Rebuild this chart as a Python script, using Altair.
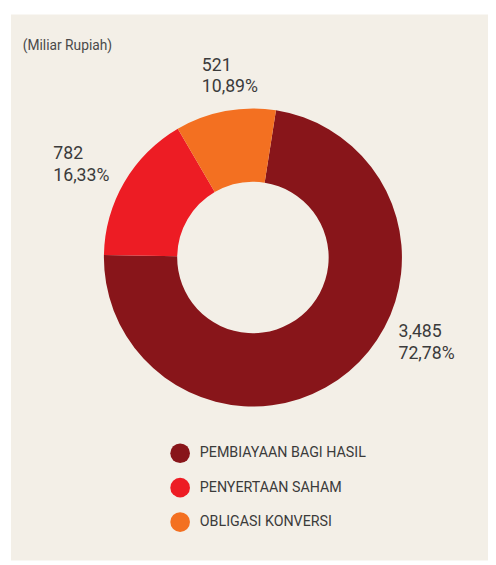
import math
import altair as alt
import pandas as pd

# ---- data ----
categories = ["PEMBIAYAAN BAGI HASIL", "PENYERTAAN SAHAM", "OBLIGASI KONVERSI"]
values = [3485, 782, 521]
percent_labels = ["72,78%", "16,33%", "10,89%"]
unit_label = "(Miliar Rupiah)"

# ---- styles ----
colors = ["#88151a", "#ed1c24", "#f37021"]
font = "Roboto, Liberation Sans, sans-serif"
text_color = "#3b3b3b"
bg = "#f3efe7"

df = pd.DataFrame({
    "category": categories,
    "value": values,
    "pct": percent_labels,
    "order": list(range(len(categories))),
})
df["label"] = [f"{v:,}" + "\n" + p for v, p in zip(values, percent_labels)]

W, H = 485, 555
cx, cy = 246, 247
start = math.radians(8.9)

donut = alt.Chart(df).mark_arc(innerRadius=77, outerRadius=151.5).encode(
    theta=alt.Theta("value:Q", stack=True,
                    scale=alt.Scale(range=[start, start + 2 * math.pi])),
    color=alt.Color(
        "category:N",
        sort=categories,
        scale=alt.Scale(domain=categories, range=colors),
        legend=alt.Legend(
            title=None, orient="none", legendX=162, legendY=436,
            symbolType="circle", symbolSize=400, symbolStrokeWidth=0,
            symbolOpacity=1, labelFont=font, labelFontSize=14.5,
            labelColor=text_color, rowPadding=15, labelOffset=10, padding=0,
            labelLimit=0,
        ),
    ),
    order=alt.Order("order:Q"),
    x=alt.value(cx),
    y=alt.value(cy),
)

# annotation positions (left x, first baseline y) per category
label_pos = [(394, 328), (43, 147), (194, 57)]
layers = [donut]
for cat, (lx, ly) in zip(categories, label_pos):
    layers.append(
        alt.Chart(df).transform_filter(alt.datum.category == cat)
        .mark_text(align="left", baseline="alphabetic", font=font, fontSize=18,
                   color=text_color, lineBreak="\n", lineHeight=22)
        .encode(text="label:N", x=alt.value(lx), y=alt.value(ly))
    )

unit = alt.Chart(pd.DataFrame({"t": [unit_label]})).mark_text(
    align="left", baseline="alphabetic", font=font, fontSize=14, color="#4a4a4a"
).encode(text="t:N", x=alt.value(12), y=alt.value(36))
layers.append(unit)

chart = alt.layer(*layers).properties(
    width=W, height=H, autosize=alt.AutoSizeParams(type="none"),
    padding={"left": 3, "top": 2, "right": 0, "bottom": 0},
    background="white",
).configure_view(fill=bg, strokeWidth=0)

chart.save("out.html", embed_options={"renderer": "svg", "actions": False})
